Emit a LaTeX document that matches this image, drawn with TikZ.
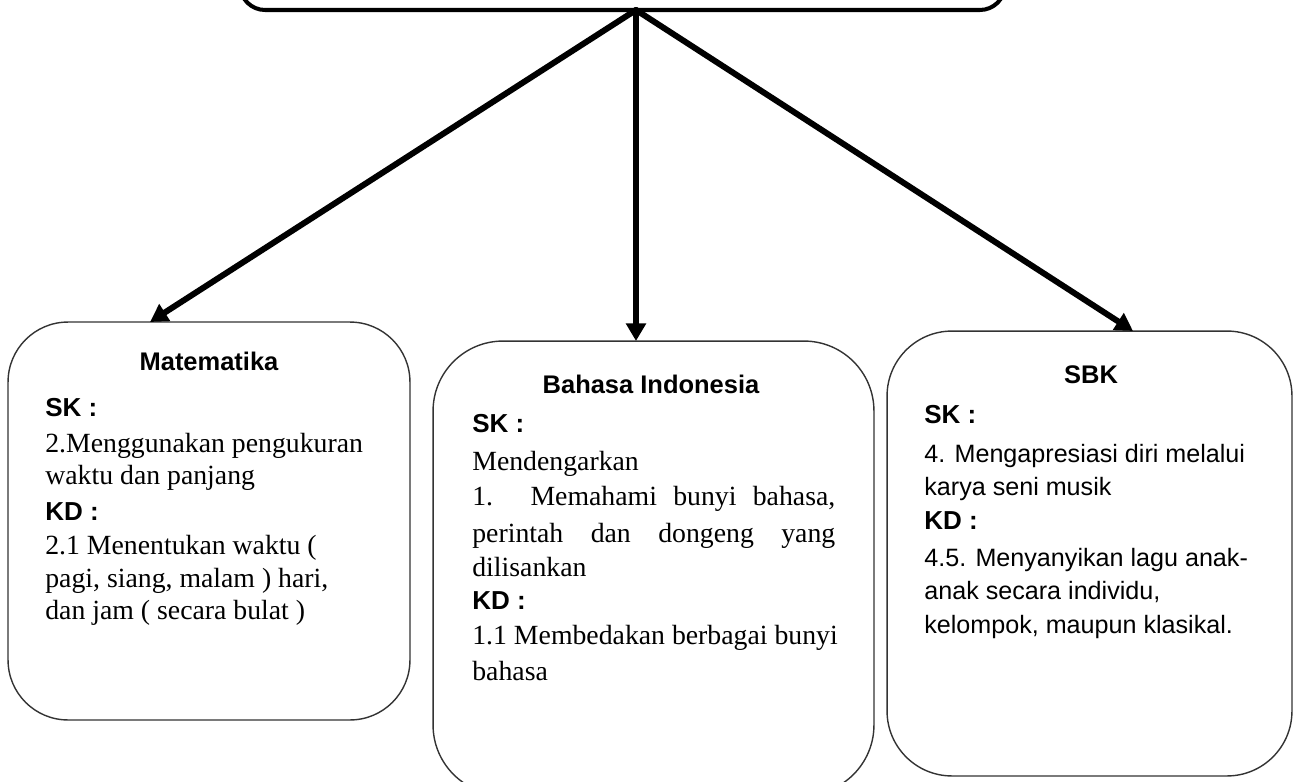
\documentclass[tikz,border=0pt]{standalone}
\usepackage{fontspec}
\setmainfont{Liberation Serif}
\setsansfont{Liberation Sans}
\usetikzlibrary{arrows.meta}
\definecolor{garis}{rgb}{0.2,0.2,0.2}
\tikzset{
  kotak/.style={draw=garis,line width=0.8pt,rounded corners=1.2cm,inner sep=0pt},
  panah/.style={line width=3.4pt,-{Triangle[length=10pt,width=11pt]}},
  judul/.style={font=\sffamily\bfseries\fontsize{14.5}{18}\selectfont,anchor=base},
  label/.style={font=\sffamily\bfseries\fontsize{14.8}{17}\selectfont,anchor=base west,inner sep=0pt},
  isi/.style={font=\fontsize{15.8}{19}\selectfont,anchor=base west,inner sep=0pt},
  isisans/.style={font=\sffamily\fontsize{14.3}{17}\selectfont,anchor=base west,inner sep=0pt}
}
\begin{document}
\begin{tikzpicture}[line cap=round,line join=round,x=0.02cm,y=-0.02cm]
\useasboundingbox (0,0) rectangle (1294,781);
\node[kotak,line width=2.3pt,draw=black,rounded corners=0.5cm,minimum width=15.3cm,minimum height=1.4cm] (tema) at (622.5,-25) {};
\node[kotak,minimum width=8.04cm,minimum height=7.96cm] (mat) at (209,521) {};
\node[kotak,rounded corners=1.4cm,minimum width=8.82cm,minimum height=9.08cm] (bin) at (653.5,568) {};
\node[kotak,rounded corners=1.3cm,minimum width=8.1cm,minimum height=8.9cm] (sbk) at (1089.5,553.5) {};
\coordinate (pusat) at (636,10);
\coordinate (matA) at (150,322);
\coordinate (binA) at (636,341);
\coordinate (sbkA) at (1133,331);
\draw[panah] (pusat) -- (matA);
\draw[panah] (pusat) -- (binA);
\draw[panah] (pusat) -- (sbkA);
% Matematika
\node[judul] (matJ) at (209,370) {Matematika};
\node[label] (matSK) at (45,416) {SK :};
\node[isi] (mat1) at (45,452) {2.Menggunakan pengukuran};
\node[isi] (mat2) at (45,484) {waktu dan panjang};
\node[label] (matKD) at (45,520) {KD :};
\node[isi] (mat3) at (45,554) {2.1 Menentukan waktu (};
\node[isi] (mat4) at (45,587) {pagi, siang, malam ) hari,};
\node[isi] (mat5) at (45,619) {dan jam ( secara bulat )};
% Bahasa Indonesia
\node[judul] (binJ) at (651,393) {Bahasa Indonesia};
\node[label] (binSK) at (472,432) {SK :};
\node[isi] (bin1) at (472,470) {Mendengarkan};
\node[isi] (bin2) at (472,505) {\makebox[7.26cm][s]{1. Memahami bunyi bahasa,}};
\node[isi] (bin3) at (472,542) {\makebox[7.26cm][s]{perintah dan dongeng yang}};
\node[isi] (bin4) at (472,576) {dilisankan};
\node[label] (binKD) at (472,609) {KD :};
\node[isi] (bin5) at (472,644) {1.1 Membedakan berbagai bunyi};
\node[isi] (bin6) at (472,680) {bahasa};
% SBK
\node[judul] (sbkJ) at (1091,383) {SBK};
\node[label] (sbkSK) at (924,423) {SK :};
\node[isisans] (sbk1) at (924,462) {4. Mengapresiasi diri melalui};
\node[isisans] (sbk2) at (924,495) {karya seni musik};
\node[label] (sbkKD) at (924,529) {KD :};
\node[isisans] (sbk3) at (924,566) {4.5. Menyanyikan lagu anak-};
\node[isisans] (sbk4) at (924,599) {anak secara individu,};
\node[isisans] (sbk5) at (924,633) {kelompok, maupun klasikal.};
\end{tikzpicture}
\end{document}
